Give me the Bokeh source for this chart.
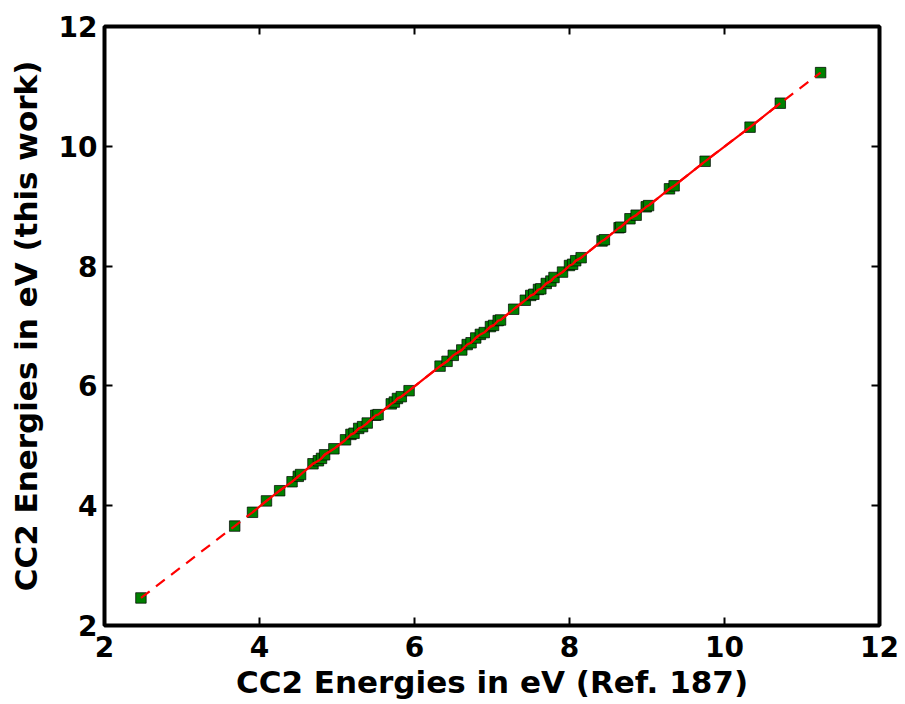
from bokeh.plotting import figure
from bokeh.models import LinearAxis, FixedTicker, Range1d
from bokeh.embed import file_html
from bokeh.resources import INLINE

# CC2 energies (eV): reference values (Ref. 187) and this work
ref_energies = [2.47, 3.68, 3.91, 4.09, 4.26, 4.42, 4.50, 4.53, 4.69, 4.76, 4.80, 4.84, 4.96,
                5.11, 5.18, 5.22, 5.28, 5.33, 5.39, 5.50, 5.53, 5.70, 5.74, 5.78, 5.83, 5.93,
                6.33, 6.42, 6.50, 6.61, 6.68, 6.73, 6.79, 6.85, 6.90, 6.98, 7.02, 7.08, 7.11,
                7.28, 7.43, 7.50, 7.54, 7.60, 7.63, 7.70, 7.76, 7.80, 7.91, 8.00, 8.04, 8.08,
                8.15, 8.42, 8.45, 8.64, 8.66, 8.78, 8.86, 8.99, 9.02, 9.29, 9.35, 9.75, 10.33,
                10.72, 11.24]
this_work = [2.46, 3.66, 3.89, 4.08, 4.25, 4.40, 4.49, 4.52, 4.70, 4.75, 4.79, 4.85, 4.95,
             5.10, 5.19, 5.21, 5.29, 5.32, 5.38, 5.51, 5.52, 5.70, 5.73, 5.79, 5.82, 5.92,
             6.33, 6.41, 6.51, 6.60, 6.69, 6.72, 6.80, 6.86, 6.89, 6.99, 7.01, 7.09, 7.10,
             7.28, 7.43, 7.51, 7.53, 7.61, 7.62, 7.71, 7.75, 7.81, 7.90, 8.01, 8.03, 8.09,
             8.14, 8.42, 8.44, 8.64, 8.65, 8.79, 8.85, 8.99, 9.01, 9.29, 9.34, 9.75, 10.32,
             10.72, 11.23]
tick_values = [2, 4, 6, 8, 10, 12]
x_label = "CC2 Energies in eV (Ref. 187)"
y_label = "CC2 Energies in eV (this work)"

FONT = "DejaVu Sans"

p = figure(frame_width=775, frame_height=599, output_backend="svg", toolbar_location=None,
           x_range=Range1d(2, 12), y_range=Range1d(2, 12),
           min_border_left=104, min_border_top=26, min_border_right=20, min_border_bottom=78)
p.grid.visible = False
p.outline_line_color = "black"
p.outline_line_width = 4
p.background_fill_color = "white"
p.border_fill_color = "white"

p.scatter(ref_energies, this_work, marker="square", size=10.5, fill_color="green",
          line_color="black", line_alpha=0.7, line_width=1)
p.line(ref_energies, this_work, line_color="red", line_width=2.2, line_dash="11 8")
p.line(ref_energies[2:-1], this_work[2:-1], line_color="red", line_width=2.2)

ticker = FixedTicker(ticks=tick_values)

for ax in (p.xaxis[0], p.yaxis[0]):
    ax.ticker = ticker
    ax.axis_line_color = None
    ax.major_tick_in = 8
    ax.major_tick_out = 0
    ax.major_tick_line_width = 2
    ax.minor_tick_line_color = None
    ax.major_label_text_font = FONT
    ax.major_label_text_font_style = "bold"
    ax.major_label_text_font_size = "28px"
    ax.major_label_text_color = "black"
    ax.axis_label_text_font = FONT
    ax.axis_label_text_font_style = "bold"
    ax.axis_label_text_font_size = "31px"
    ax.axis_label_text_color = "black"

p.xaxis[0].axis_label = x_label
p.yaxis[0].axis_label = y_label
p.xaxis[0].major_label_standoff = 10
p.xaxis[0].axis_label_standoff = 4
p.yaxis[0].major_label_standoff = 7
p.yaxis[0].axis_label_standoff = 12

for side in ("above", "right"):
    ax = LinearAxis(ticker=ticker)
    ax.axis_line_color = None
    ax.major_tick_in = 8
    ax.major_tick_out = 0
    ax.major_tick_line_width = 2
    ax.minor_tick_line_color = None
    ax.major_label_overrides = {t: "" for t in tick_values}
    ax.major_label_standoff = 0
    ax.major_label_text_font_size = "10px"
    p.add_layout(ax, side)

open("out.html", "w").write(file_html(p, INLINE))
